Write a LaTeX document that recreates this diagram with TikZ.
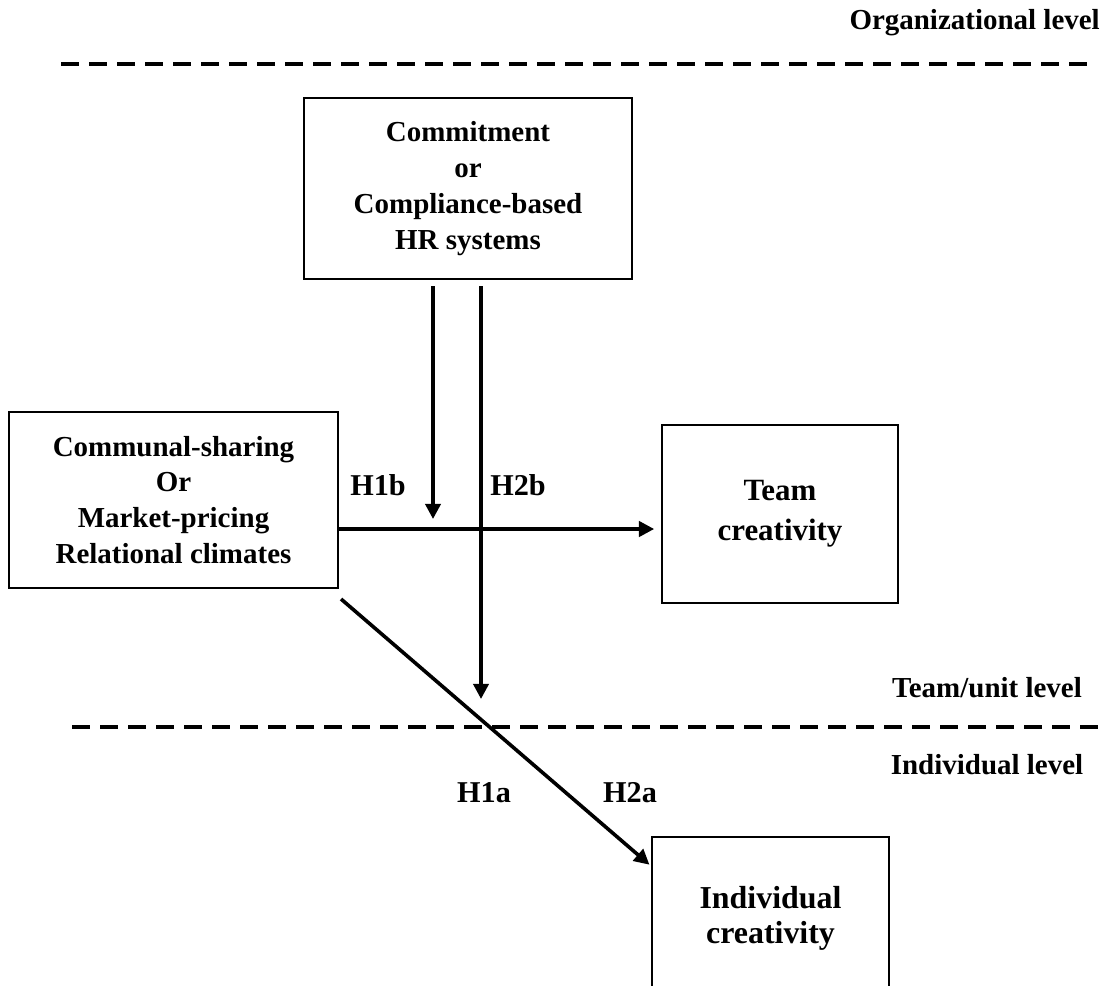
\documentclass[tikz,border=0pt]{standalone}
\usepackage{fontspec}
\setmainfont{Liberation Serif}
\usetikzlibrary{arrows.meta}
\tikzset{
	box/.style={draw, line width=0.05cm, align=center, inner sep=0pt,
		font=\bfseries\fontsize{20.6}{25.5}\selectfont},
	lvl/.style={font=\bfseries\fontsize{20.6}{25}\selectfont, inner sep=0pt},
	hyp/.style={font=\bfseries\fontsize{21.5}{25}\selectfont, inner sep=0pt},
	arr/.style={line width=0.09cm, -{Triangle[length=0.38cm,width=0.38cm]}},
	sep/.style={line width=0.1cm, dash pattern=on 0.45cm off 0.25cm}
}
\begin{document}
\begin{tikzpicture}[x=0.025cm, y=-0.025cm]
			%%%%% START %%%%%
			\useasboundingbox (0, 0) rectangle (1108, 985);
			
			% levels
			\draw[sep] (61, 64) -- (1090, 64);
			\draw[sep] (72, 727) -- (1100, 727);
			\node[lvl, anchor=east] (orglvl) at (1100, 23) {Organizational level};
			\node[lvl] (teamlvl) at (987, 688) {Team/unit level};
			\node[lvl] (indlvl) at (987, 765) {Individual level};
			
			% boxes
			\node[box, minimum width=8.2cm, minimum height=4.525cm] (hrsys) at (468, 188.5)
				{Commitment\\or\\Compliance-based\\HR systems};
			\node[box, minimum width=8.225cm, minimum height=4.4cm] (climate) at (173.5, 500)
				{Communal-sharing\\Or\\Market-pricing\\Relational climates};
			\node[box, minimum width=5.9cm, minimum height=4.425cm,
				font=\bfseries\fontsize{22}{28.5}\selectfont] (teamcr) at (780, 514)
				{Team\\creativity};
			\node[box, minimum width=5.925cm, minimum height=4.05cm,
				font=\bfseries\fontsize{22.7}{25}\selectfont] (indcr) at (770.5, 918)
				{Individual\\creativity};
			
			% arrows
			\coordinate (h1tip) at (433, 519);
			\coordinate (h2tip) at (481, 699);
			\draw[arr, shorten <=0.15cm] (hrsys.south -| h1tip) -- (h1tip);
			\draw[arr, shorten <=0.15cm] (hrsys.south -| h2tip) -- (h2tip);
			\draw[arr, shorten >=0.17cm] (climate.east |- 0, 529) -- (teamcr.west |- 0, 529);
			\draw[arr, shorten >=0.05cm] ([shift={(2, 10)}]climate.south east) -- (indcr.west |- 0, 866);
			
			% hypotheses
			\node[hyp] (h1b) at (378, 485) {H1b};
			\node[hyp] (h2b) at (518, 485) {H2b};
			\node[hyp] (h1a) at (484, 793) {H1a};
			\node[hyp] (h2a) at (630, 793) {H2a};
			%%%%% END %%%%%
\end{tikzpicture}
\end{document}
